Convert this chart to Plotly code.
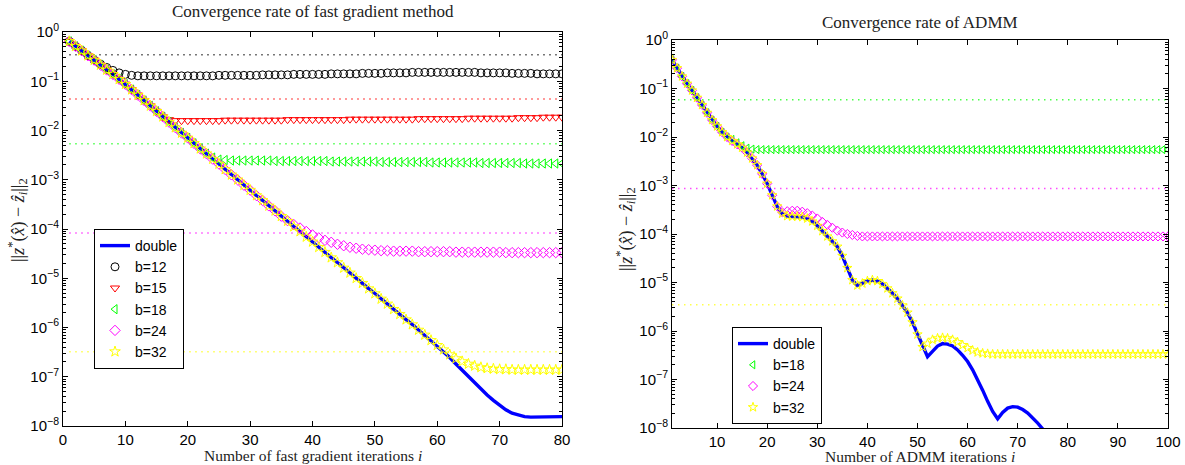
import plotly.graph_objects as go

# ---------------- data (log10 of error) ----------------
iters_fg = list(range(1, 81))
iters_admm = list(range(1, 101))

fg_double_log = [
    -0.19, -0.29, -0.38, -0.48, -0.57, -0.67, -0.77, -0.86, -0.96, -1.06,
    -1.17, -1.28, -1.39, -1.50, -1.61, -1.72, -1.83, -1.94, -2.05, -2.15,
    -2.26, -2.37, -2.47, -2.58, -2.68, -2.79, -2.90, -3.00, -3.11, -3.21,
    -3.32, -3.42, -3.53, -3.63, -3.74, -3.84, -3.95, -4.05, -4.16, -4.26,
    -4.37, -4.47, -4.58, -4.68, -4.79, -4.89, -5.00, -5.10, -5.21, -5.31,
    -5.42, -5.52, -5.63, -5.73, -5.84, -5.94, -6.05, -6.15, -6.26, -6.37,
    -6.49, -6.61, -6.74, -6.87, -7.00, -7.13, -7.25, -7.37, -7.48, -7.58,
    -7.67, -7.74, -7.78, -7.81, -7.82, -7.82, -7.82, -7.82, -7.81, -7.81]

fg_b12_log = [
    -0.19, -0.29, -0.38, -0.48, -0.57, -0.65, -0.72, -0.78, -0.83, -0.86,
    -0.88, -0.89, -0.89, -0.89, -0.89, -0.89, -0.89, -0.89, -0.89, -0.89,
    -0.89, -0.89, -0.89, -0.89, -0.88, -0.88, -0.88, -0.88, -0.88, -0.88,
    -0.88, -0.87, -0.87, -0.87, -0.87, -0.87, -0.86, -0.86, -0.86, -0.86,
    -0.86, -0.86, -0.85, -0.85, -0.85, -0.85, -0.85, -0.84, -0.84, -0.84,
    -0.84, -0.83, -0.83, -0.83, -0.83, -0.82, -0.82, -0.82, -0.82, -0.82,
    -0.82, -0.82, -0.82, -0.82, -0.82, -0.82, -0.83, -0.83, -0.83, -0.83,
    -0.83, -0.84, -0.84, -0.84, -0.84, -0.85, -0.85, -0.85, -0.85, -0.85]

fg_b15_log = [
    -0.19, -0.29, -0.38, -0.48, -0.57, -0.67, -0.77, -0.86, -0.96, -1.06,
    -1.17, -1.28, -1.39, -1.50, -1.61, -1.72, -1.78, -1.80, -1.80, -1.80,
    -1.80, -1.80, -1.80, -1.80, -1.80, -1.79, -1.79, -1.79, -1.79, -1.79,
    -1.79, -1.79, -1.79, -1.79, -1.79, -1.78, -1.78, -1.78, -1.78, -1.78,
    -1.78, -1.78, -1.78, -1.78, -1.78, -1.77, -1.77, -1.77, -1.77, -1.77,
    -1.77, -1.77, -1.77, -1.77, -1.77, -1.77, -1.76, -1.76, -1.76, -1.76,
    -1.76, -1.76, -1.76, -1.76, -1.75, -1.75, -1.75, -1.75, -1.75, -1.75,
    -1.75, -1.75, -1.74, -1.74, -1.74, -1.74, -1.73, -1.73, -1.73, -1.73]

fg_b18_log = [
    -0.19, -0.29, -0.38, -0.48, -0.57, -0.67, -0.77, -0.86, -0.96, -1.06,
    -1.17, -1.28, -1.39, -1.50, -1.61, -1.72, -1.83, -1.94, -2.05, -2.15,
    -2.26, -2.37, -2.47, -2.55, -2.59, -2.60, -2.61, -2.61, -2.61, -2.61,
    -2.61, -2.61, -2.61, -2.62, -2.62, -2.62, -2.62, -2.62, -2.62, -2.62,
    -2.62, -2.62, -2.63, -2.63, -2.63, -2.63, -2.63, -2.63, -2.63, -2.63,
    -2.64, -2.64, -2.64, -2.64, -2.64, -2.64, -2.64, -2.64, -2.65, -2.65,
    -2.65, -2.65, -2.65, -2.65, -2.65, -2.65, -2.66, -2.66, -2.66, -2.66,
    -2.66, -2.66, -2.66, -2.67, -2.67, -2.67, -2.67, -2.67, -2.67, -2.67]

fg_b24_log = [
    -0.19, -0.29, -0.38, -0.48, -0.57, -0.67, -0.77, -0.86, -0.96, -1.06,
    -1.17, -1.28, -1.39, -1.50, -1.61, -1.72, -1.83, -1.94, -2.05, -2.15,
    -2.26, -2.37, -2.47, -2.58, -2.68, -2.79, -2.90, -3.00, -3.11, -3.21,
    -3.32, -3.42, -3.53, -3.63, -3.74, -3.83, -3.91, -3.98, -4.05, -4.12,
    -4.18, -4.23, -4.27, -4.31, -4.34, -4.37, -4.39, -4.41, -4.42, -4.43,
    -4.44, -4.44, -4.45, -4.45, -4.45, -4.45, -4.46, -4.46, -4.46, -4.46,
    -4.46, -4.46, -4.47, -4.47, -4.47, -4.47, -4.47, -4.47, -4.47, -4.47,
    -4.48, -4.48, -4.48, -4.48, -4.48, -4.48, -4.48, -4.48, -4.48, -4.48]

fg_b32_log = [
    -0.19, -0.29, -0.38, -0.48, -0.57, -0.67, -0.77, -0.86, -0.96, -1.06,
    -1.17, -1.28, -1.39, -1.50, -1.61, -1.72, -1.83, -1.94, -2.05, -2.15,
    -2.26, -2.37, -2.47, -2.58, -2.68, -2.79, -2.90, -3.00, -3.11, -3.21,
    -3.32, -3.42, -3.53, -3.63, -3.74, -3.84, -3.95, -4.05, -4.16, -4.26,
    -4.37, -4.47, -4.58, -4.68, -4.79, -4.89, -5.00, -5.10, -5.21, -5.31,
    -5.42, -5.52, -5.63, -5.73, -5.84, -5.94, -6.05, -6.15, -6.26, -6.36,
    -6.45, -6.55, -6.63, -6.69, -6.74, -6.78, -6.81, -6.83, -6.84, -6.85,
    -6.85, -6.86, -6.86, -6.86, -6.86, -6.86, -6.86, -6.86, -6.86, -6.86]

# dotted reference levels (fast gradient): b=12, 15, 18, 24, 32
fg_levels_log = [-0.46, -1.36, -2.27, -4.08, -6.49]

admm_double_log = [
    -0.41, -0.58, -0.75, -0.90, -1.04, -1.19, -1.34, -1.50, -1.65, -1.78,
    -1.90, -2.00, -2.08, -2.15, -2.22, -2.32, -2.44, -2.58, -2.76, -2.96,
    -3.20, -3.43, -3.58, -3.63, -3.64, -3.64, -3.65, -3.68, -3.74, -3.83,
    -3.94, -4.05, -4.15, -4.26, -4.45, -4.70, -4.95, -5.06, -5.02, -4.97,
    -4.95, -4.97, -5.03, -5.12, -5.22, -5.33, -5.47, -5.62, -5.82, -6.07,
    -6.32, -6.53, -6.42, -6.31, -6.26, -6.27, -6.31, -6.39, -6.50, -6.63,
    -6.80, -7.00, -7.22, -7.45, -7.66, -7.81, -7.68, -7.59, -7.56, -7.57,
    -7.62, -7.69, -7.79, -7.90, -8.02, -8.16, -8.32, -8.50]

admm_b18_log = [
    -0.41, -0.58, -0.75, -0.90, -1.04, -1.19, -1.34, -1.50, -1.65, -1.78,
    -1.90, -2.00, -2.05, -2.12, -2.18, -2.23, -2.25, -2.26, -2.26, -2.26,
    -2.26, -2.26, -2.26, -2.26, -2.26, -2.26, -2.26, -2.26, -2.26, -2.26,
    -2.26, -2.26, -2.26, -2.26, -2.26, -2.26, -2.26, -2.26, -2.26, -2.26,
    -2.26, -2.26, -2.26, -2.26, -2.26, -2.26, -2.26, -2.26, -2.26, -2.26,
    -2.26, -2.26, -2.26, -2.26, -2.26, -2.26, -2.26, -2.26, -2.26, -2.26,
    -2.26, -2.26, -2.26, -2.26, -2.26, -2.26, -2.26, -2.26, -2.26, -2.26,
    -2.26, -2.26, -2.26, -2.26, -2.26, -2.26, -2.26, -2.26, -2.26, -2.26,
    -2.26, -2.26, -2.26, -2.26, -2.26, -2.26, -2.26, -2.26, -2.26, -2.26,
    -2.26, -2.26, -2.26, -2.26, -2.26, -2.26, -2.26, -2.26, -2.26, -2.26]

admm_b24_log = [
    -0.41, -0.58, -0.75, -0.90, -1.04, -1.19, -1.34, -1.50, -1.65, -1.78,
    -1.90, -2.00, -2.08, -2.15, -2.22, -2.32, -2.44, -2.58, -2.76, -2.96,
    -3.20, -3.43, -3.55, -3.53, -3.52, -3.52, -3.54, -3.57, -3.62, -3.68,
    -3.75, -3.81, -3.87, -3.93, -3.97, -4.00, -4.02, -4.04, -4.05, -4.05,
    -4.05, -4.05, -4.05, -4.05, -4.05, -4.05, -4.05, -4.05, -4.05, -4.05,
    -4.05, -4.05, -4.05, -4.05, -4.05, -4.05, -4.05, -4.05, -4.05, -4.05,
    -4.05, -4.05, -4.05, -4.05, -4.05, -4.05, -4.05, -4.05, -4.05, -4.05,
    -4.05, -4.05, -4.05, -4.05, -4.05, -4.05, -4.05, -4.05, -4.05, -4.05,
    -4.05, -4.05, -4.05, -4.05, -4.05, -4.05, -4.05, -4.05, -4.05, -4.05,
    -4.05, -4.05, -4.05, -4.05, -4.05, -4.05, -4.05, -4.05, -4.05, -4.05]

admm_b32_log = [
    -0.41, -0.58, -0.75, -0.90, -1.04, -1.19, -1.34, -1.50, -1.65, -1.78,
    -1.90, -2.00, -2.08, -2.15, -2.22, -2.32, -2.44, -2.58, -2.76, -2.96,
    -3.20, -3.43, -3.58, -3.63, -3.64, -3.64, -3.65, -3.68, -3.74, -3.83,
    -3.94, -4.05, -4.15, -4.26, -4.45, -4.70, -4.95, -5.06, -5.02, -4.97,
    -4.95, -4.97, -5.03, -5.12, -5.22, -5.33, -5.47, -5.62, -5.82, -6.07,
    -6.33, -6.26, -6.18, -6.15, -6.14, -6.15, -6.18, -6.23, -6.29, -6.35,
    -6.40, -6.44, -6.46, -6.47, -6.48, -6.48, -6.48, -6.48, -6.48, -6.48,
    -6.48, -6.48, -6.48, -6.48, -6.48, -6.48, -6.48, -6.48, -6.48, -6.48,
    -6.48, -6.48, -6.48, -6.48, -6.48, -6.48, -6.48, -6.48, -6.48, -6.48,
    -6.48, -6.48, -6.48, -6.48, -6.48, -6.48, -6.48, -6.48, -6.48, -6.48]

# dotted reference levels (ADMM): b=18, 24, 32
admm_levels_log = [-1.23, -3.06, -5.46]

ytick_vals = [1e0, 1e-1, 1e-2, 1e-3, 1e-4, 1e-5, 1e-6, 1e-7, 1e-8]
ytick_text = ["10<sup>0</sup>", "10<sup>−1</sup>", "10<sup>−2</sup>", "10<sup>−3</sup>",
              "10<sup>−4</sup>", "10<sup>−5</sup>", "10<sup>−6</sup>", "10<sup>−7</sup>",
              "10<sup>−8</sup>"]
xtick_fg = [0, 10, 20, 30, 40, 50, 60, 70, 80]
xtick_admm = [10, 20, 30, 40, 50, 60, 70, 80, 90, 100]


def lin(v):
    return [10 ** x for x in v]


SANS = "Liberation Sans, Arial, sans-serif"
SERIF = "Liberation Serif, Times New Roman, serif"

fig = go.Figure()

# ---------------- left: fast gradient ----------------
fig.add_trace(go.Scatter(x=iters_fg, y=lin(fg_double_log), mode="lines", name="double",
                         line=dict(color="#0000ff", width=3.4), xaxis="x", yaxis="y",
                         legend="legend"))
fg_specs = [("b=12", fg_b12_log, "#000000", "circle-open"),
            ("b=15", fg_b15_log, "#ff0000", "triangle-down-open"),
            ("b=18", fg_b18_log, "#00ff00", "triangle-left-open"),
            ("b=24", fg_b24_log, "#ff00ff", "diamond-open"),
            ("b=32", fg_b32_log, "#ffff00", "star-open")]
for (name, vals, col, sym), lvl in zip(fg_specs, fg_levels_log):
    fig.add_trace(go.Scatter(x=[iters_fg[0], iters_fg[-1]], y=lin([lvl, lvl]), mode="lines",
                             line=dict(color=col, width=1.5, dash="1.5px,4.5px"),
                             opacity=0.7, showlegend=False, hoverinfo="skip",
                             xaxis="x", yaxis="y"))
for name, vals, col, sym in fg_specs:
    fig.add_trace(go.Scatter(x=iters_fg, y=lin(vals), mode="markers", name=name,
                             marker=dict(symbol=sym, size=8, color=col,
                                         line=dict(color=col, width=1)),
                             xaxis="x", yaxis="y", legend="legend"))

# ---------------- right: ADMM ----------------
fig.add_trace(go.Scatter(x=iters_admm[:len(admm_double_log)], y=lin(admm_double_log),
                         mode="lines", name="double",
                         line=dict(color="#0000ff", width=3.4), xaxis="x2", yaxis="y2",
                         legend="legend2"))
admm_specs = [("b=18", admm_b18_log, "#00ff00", "triangle-left-open"),
              ("b=24", admm_b24_log, "#ff00ff", "diamond-open"),
              ("b=32", admm_b32_log, "#ffff00", "star-open")]
for (name, vals, col, sym), lvl in zip(admm_specs, admm_levels_log):
    fig.add_trace(go.Scatter(x=[iters_admm[0], iters_admm[-1]], y=lin([lvl, lvl]), mode="lines",
                             line=dict(color=col, width=1.5, dash="1.5px,4.5px"),
                             opacity=0.7, showlegend=False, hoverinfo="skip",
                             xaxis="x2", yaxis="y2"))
for name, vals, col, sym in admm_specs:
    fig.add_trace(go.Scatter(x=iters_admm, y=lin(vals), mode="markers", name=name,
                             marker=dict(symbol=sym, size=7, color=col,
                                         line=dict(color=col, width=1)),
                             xaxis="x2", yaxis="y2", legend="legend2"))

W, H = 1185, 465
minor_vals = [m * 10 ** e for e in range(-8, 0) for m in range(2, 10)]

axis_common = dict(showline=True, linecolor="black", linewidth=1, mirror="ticks",
                   ticks="inside", ticklen=5, tickcolor="black", showgrid=False,
                   zeroline=False, tickfont=dict(family=SANS, size=15, color="black"),
                   automargin=False)

yaxis_common = dict(axis_common, type="log", range=[-8, 0], tickmode="array",
                    tickvals=ytick_vals, ticktext=ytick_text,
                    minor=dict(ticks="inside", ticklen=3, tickcolor="black",
                               tickmode="array", tickvals=minor_vals, showgrid=False))

legend_font = dict(family=SANS, size=14, color="black")
fig.update_layout(
    width=W, height=H,
    margin=dict(l=0, r=0, t=0, b=0),
    paper_bgcolor="white", plot_bgcolor="white",
    xaxis=dict(axis_common, domain=[63 / W, 562 / W], range=[0, 80], tickmode="array",
               tickvals=xtick_fg, anchor="y"),
    yaxis=dict(yaxis_common, domain=[1 - 426 / H, 1 - 32 / H], anchor="x"),
    xaxis2=dict(axis_common, domain=[672 / W, 1168 / W], range=[1, 100], tickmode="array",
                tickvals=xtick_admm, anchor="y2"),
    yaxis2=dict(yaxis_common, domain=[1 - 428 / H, 1 - 40 / H], anchor="x2"),
    legend=dict(x=94 / W, y=1 - 229 / H, xanchor="left", yanchor="top",
                bgcolor="white", bordercolor="black", borderwidth=1,
                font=legend_font, tracegroupgap=0),
    legend2=dict(x=732 / W, y=1 - 327 / H, xanchor="left", yanchor="top",
                 bgcolor="white", bordercolor="black", borderwidth=1,
                 font=legend_font, tracegroupgap=0),
    showlegend=True,
)

label_font = dict(family=SERIF, size=17, color="#222222")
xlabel_font = dict(family=SERIF, size=15.5, color="#222222")
ylabel_font = dict(family=SERIF, size=18, color="#222222")
ylabel = "||<i>z</i><sup>*</sup>(<i>x̂</i>) − <i>ẑ<sub>i</sub></i>||<sub>2</sub>"
annos = [
    dict(text="Convergence rate of fast gradient method", x=313 / W, y=1 - 12 / H, font=label_font),
    dict(text="Convergence rate of ADMM", x=920 / W, y=1 - 22 / H, font=label_font),
    dict(text="Number of fast gradient iterations <i>i</i>", x=313 / W, y=1 - 455.5 / H, font=xlabel_font),
    dict(text="Number of ADMM iterations <i>i</i>", x=920 / W, y=1 - 456 / H, font=xlabel_font),
    dict(text=ylabel, x=17 / W, y=1 - 220 / H, textangle=-90, font=ylabel_font),
    dict(text=ylabel, x=626 / W, y=1 - 229 / H, textangle=-90, font=ylabel_font),
]
for a in annos:
    fig.add_annotation(xref="paper", yref="paper", showarrow=False, borderpad=0,
                       xanchor="center", yanchor="middle", **a)

fig.write_html("out.html", config={"displayModeBar": False},
               post_script="document.body.style.margin='0px';")
